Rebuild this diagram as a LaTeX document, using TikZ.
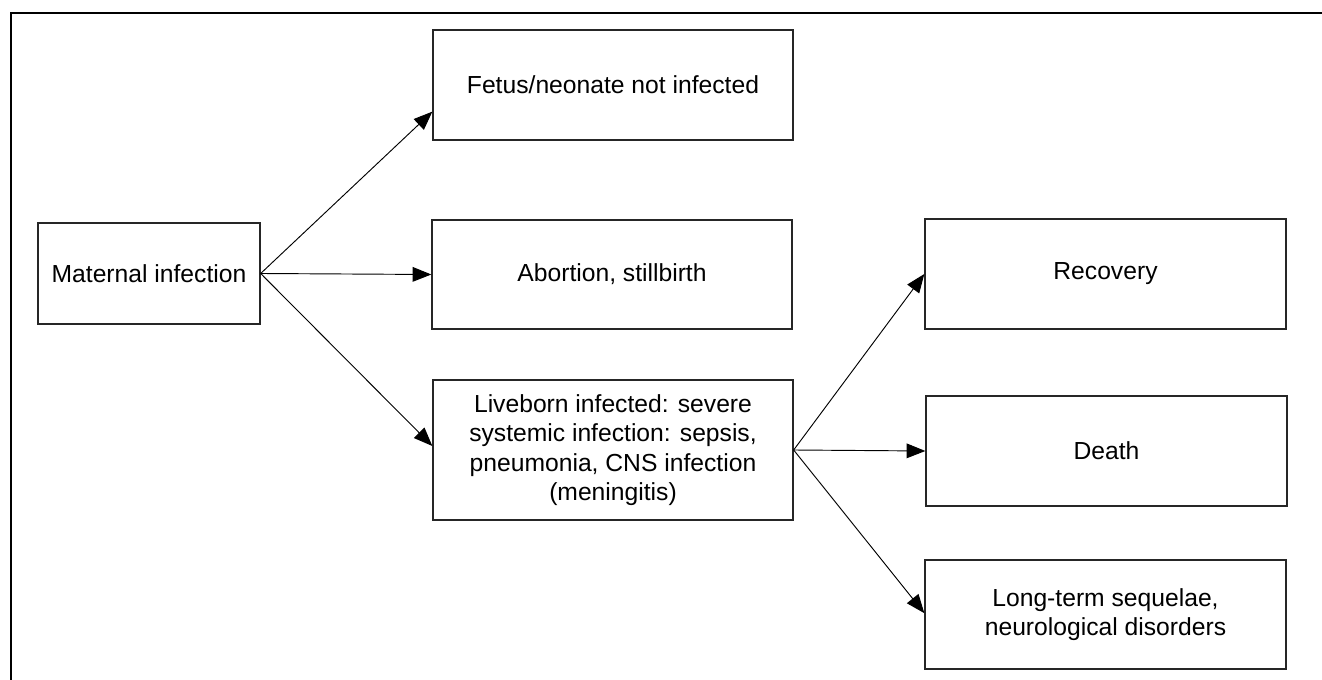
\documentclass[tikz,border=0pt]{standalone}
\usepackage{fontspec}
\setmainfont{Liberation Sans}
\usetikzlibrary{arrows.meta}
\begin{document}
\begin{tikzpicture}[x=0.75pt,y=-0.75pt,
  box/.style={draw=black!85,line width=1pt,inner sep=0pt,align=center,
    font=\fontsize{18.5pt}{22pt}\selectfont},
  flow/.style={line width=0.7pt,-{Triangle[length=14pt,width=11pt]}}]
  \useasboundingbox (0,0) rectangle (1322,680);
  % open frame: only its top and left sides are shown
  \draw[line width=1.6pt] (11,680) -- (11,13) -- (1322,13);

  \node[box,minimum width=166.5pt,minimum height=75.75pt] (mat) at (149,273.5) {Maternal infection};
  \node[box,minimum width=270pt,minimum height=82.5pt] (fetus) at (613,85) {Fetus/neonate not infected};
  \node[box,minimum width=270pt,minimum height=81.75pt] (abort) at (612,274.5) {Abortion, stillbirth};
  \node[box,minimum width=270pt,minimum height=105pt] (live) at (613,450)
    {Liveborn infected: severe\\systemic infection: sepsis,\\pneumonia, CNS infection\\(meningitis)};
  \node[box,minimum width=270.75pt,minimum height=82.5pt] (recov) at (1105.5,274) {Recovery};
  \node[box,minimum width=270.75pt,minimum height=82.5pt] (death) at (1106.5,451) {Death};
  \node[box,minimum width=270.75pt,minimum height=81.75pt] (longt) at (1105.5,614.5)
    {Long-term sequelae,\\neurological disorders};

  \draw[flow] (mat.east) -- ([yshift=-20pt]fetus.west);
  \draw[flow] (mat.east) -- (abort.west);
  \draw[flow] (mat.east) -- ([yshift=3pt]live.west);
  \draw[flow] (live.east) -- (recov.west);
  \draw[flow] (live.east) -- (death.west);
  \draw[flow] (live.east) -- ([yshift=1pt]longt.west);
\end{tikzpicture}
\end{document}
